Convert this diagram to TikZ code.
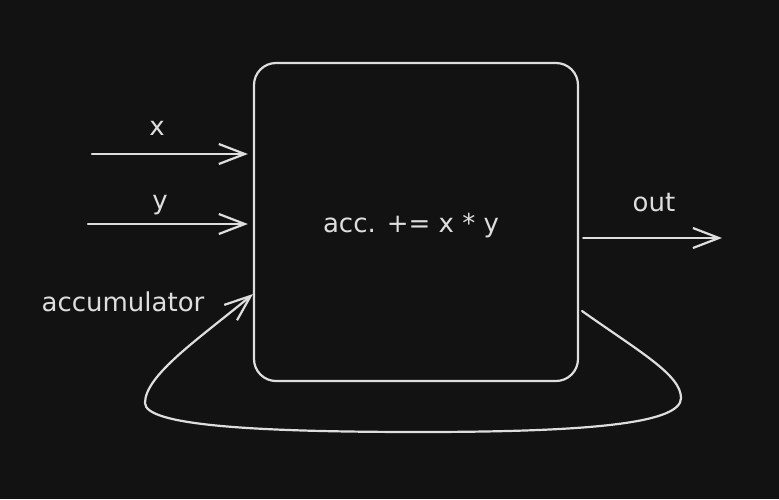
\documentclass[tikz,border=0pt]{standalone}
\usepackage{fontspec}
\setmainfont{DejaVu Sans}
\usetikzlibrary{arrows.meta}
\definecolor{bg}{HTML}{121212}
\definecolor{ink}{HTML}{DEDEDE}

\begin{document}
\begin{tikzpicture}[x=1pt,y=-1pt,>={Straight Barb[length=26pt,width=20pt]},line width=2.2pt,line cap=round,
    every node/.style={text=ink,font=\fontsize{26}{30}\selectfont},
    main node/.style={draw=ink,rounded corners=22pt,minimum width=324pt,minimum height=318pt,inner sep=0pt},
    wire/.style={->,draw=ink,shorten >=5pt}]
    \fill[bg] (0,0) rectangle (779,499);
    \useasboundingbox (0,0) rectangle (779,499);

    \node[main node] (box) at (416,222) {};
    \node (op) at (411,226) {acc. += x * y};

    \coordinate (xin) at (92,154);
    \coordinate (yin) at (88,224);
    \coordinate (outend) at (722,238);
    \coordinate (fbstart) at (582,311);
    \coordinate (fbend) at (253,294);

    \node (xlabel) at (157,128) {x};
    \node (ylabel) at (160,205) {y};
    \node (outlabel) at (654,203) {out};
    \node (acclabel) at (123,302) {accumulator};

    \path
        (xin) edge[wire] (xin -| box.west)
        (yin) edge[wire] (yin -| box.west)
        ;
    \draw[->,draw=ink] (outend -| box.east) ++(4,0) -- (outend);

    % feedback loop back into the box
    \draw[->,draw=ink] (fbstart) .. controls (640,352) and (681,375) .. (681,398)
        .. controls (681,422) and (600,432) .. (420,432)
        .. controls (250,432) and (145,425) .. (145,403)
        .. controls (145,375) and (200,338) .. (fbend);
\end{tikzpicture}
\end{document}
